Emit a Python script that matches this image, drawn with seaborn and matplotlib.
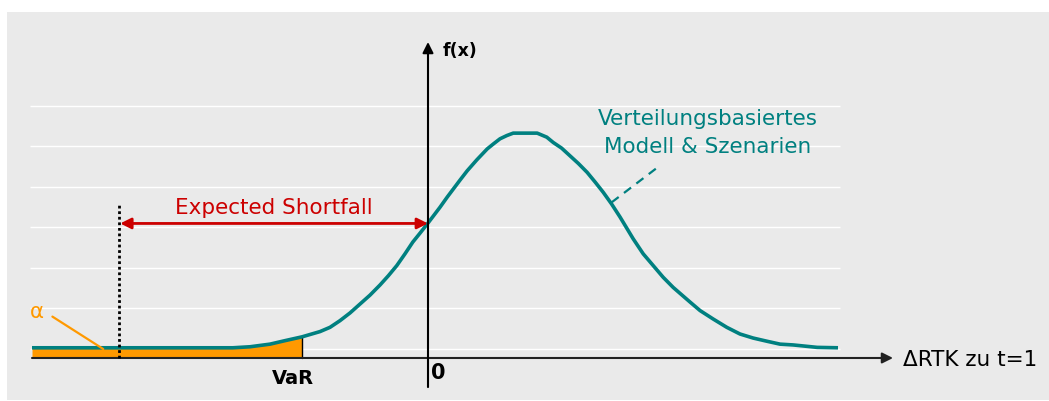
import numpy as np
import pandas as pd
import matplotlib
matplotlib.use("Agg")
import matplotlib.pyplot as plt
from matplotlib.patches import Rectangle
import seaborn as sns

# ---- data ----
x_curve = [-9.9, -8.2, -6.7, -4.88, -4.45, -3.95, -3.58, -3.15, -2.7, -2.45, -2.2, -1.95,
           -1.7, -1.45, -1.2, -0.99, -0.78, -0.575, -0.38, -0.2, 0.0, 0.3, 0.48, 0.8,
           0.98, 1.22, 1.48, 1.63, 1.8, 1.97, 2.13, 2.73, 2.97, 3.13, 3.34, 3.55,
           3.76, 3.98, 4.18, 4.38, 4.59, 4.8, 5.13, 5.38, 5.63, 5.88, 6.13, 6.55,
           6.8, 7.13, 7.47, 7.8, 8.13, 8.48, 8.8, 9.13, 9.73, 10.25]
y_curve = [0.03, 0.03, 0.03, 0.03, 0.055, 0.12, 0.205, 0.30, 0.43, 0.535, 0.70, 0.89,
           1.11, 1.33, 1.58, 1.81, 2.06, 2.35, 2.64, 2.86, 3.11, 3.50, 3.75, 4.17,
           4.40, 4.67, 4.94, 5.06, 5.19, 5.27, 5.33, 5.33, 5.23, 5.10, 4.96, 4.77,
           4.58, 4.36, 4.12, 3.87, 3.58, 3.26, 2.72, 2.35, 2.06, 1.77, 1.52, 1.16,
           0.95, 0.74, 0.535, 0.37, 0.27, 0.19, 0.12, 0.10, 0.04, 0.03]
var_x = -3.15
es_x = -7.725
grid_levels = [0, 1, 2, 3, 4, 5, 6]
curve_label = ["Verteilungsbasiertes", "Modell & Szenarien"]
x_axis_label = "\u0394RTK zu t=1"
y_axis_label = "f(x)"
es_label = "Expected Shortfall"
var_label = "VaR"
zero_label = "0"
alpha_label = "\u03b1"

TEAL = "#008080"
ORANGE = "#FF9900"
RED = "#CC0000"
PANEL = "#EAEAEA"

sns.set_style("white")
plt.rcParams["font.family"] = ["DejaVu Sans"]

df = pd.DataFrame({"x": x_curve, "y": y_curve})

fig = plt.figure(figsize=(10.49, 4.02), dpi=100, facecolor="white")
ax = fig.add_axes([0, 0, 1, 1])
ax.set_xlim(-10.7, 15.525)
ax.set_ylim(-1.284, 8.642)
ax.axis("off")

# grey panel
ax.add_patch(Rectangle((7 / 1049, 1 / 402), 1 - 7 / 1049, (401 - 13) / 402,
                       transform=ax.transAxes, facecolor=PANEL, edgecolor="none", zorder=0))

# white gridlines
ax.hlines(grid_levels, -9.95, 10.3, colors="white", linewidth=1.0, zorder=1)

axis_y = -0.222

# orange tail area up to VaR
mask = df["x"] <= var_x + 1e-9
ax.fill_between(df.loc[mask, "x"], df.loc[mask, "y"], axis_y, color=ORANGE,
                linewidth=0, zorder=2)
ax.plot([var_x, var_x], [axis_y, 0.30], color="black", linewidth=1.0, zorder=3)

# density curve
sns.lineplot(data=df, x="x", y="y", ax=ax, color=TEAL, linewidth=2.6, sort=False,
             estimator=None, zorder=4, legend=False)
ax.lines[-1].set_solid_joinstyle("round")
ax.lines[-1].set_solid_capstyle("butt")

# x axis with arrow
ax.annotate("", xy=(11.625, axis_y), xytext=(-9.9, axis_y),
            arrowprops=dict(arrowstyle="-|>", color="#222222", lw=1.5,
                            mutation_scale=16, shrinkA=0, shrinkB=0), zorder=5)
# y axis with arrow
ax.annotate("", xy=(0, 7.58), xytext=(0, -0.94),
            arrowprops=dict(arrowstyle="-|>", color="black", lw=1.5,
                            mutation_scale=16, shrinkA=0, shrinkB=0), zorder=5)

# dotted line at expected shortfall
ax.plot([es_x, es_x], [axis_y, 3.58], color="black", linewidth=2.0,
        linestyle=(0, (1, 1)), zorder=6)

# expected shortfall double arrow
ax.annotate("", xy=(0, 3.10), xytext=(es_x + 0.03, 3.10),
            arrowprops=dict(arrowstyle="<|-|>", color=RED, lw=2.0,
                            mutation_scale=16, shrinkA=0, shrinkB=0), zorder=6)
ax.text(-3.85, 3.51, es_label, color=RED, fontsize=15.5, ha="center", va="center")

# leader lines
ax.plot([4.59, 5.8], [3.62, 4.53], color=TEAL, linewidth=1.6,
        linestyle=(0, (4, 3)), zorder=4)
ax.plot([-9.39, -8.12], [0.80, 0.0], color=ORANGE, linewidth=1.6, zorder=4)

# labels
ax.text(7.0, 5.70, curve_label[0], color=TEAL, fontsize=15.5, ha="center", va="center")
ax.text(7.0, 5.01, curve_label[1], color=TEAL, fontsize=15.5, ha="center", va="center")
ax.text(11.875, -0.247, x_axis_label, color="black", fontsize=15.5,
        ha="left", va="center")
ax.text(0.375, 7.38, y_axis_label, color="black", fontsize=12.5, fontweight="bold",
        ha="left", va="center")
ax.text(-3.375, -0.716, var_label, color="black", fontsize=14, fontweight="bold",
        ha="center", va="center")
ax.text(0.08, -0.568, zero_label, color="black", fontsize=15, fontweight="bold",
        ha="left", va="center")
ax.text(-9.95, 0.94, alpha_label, color=ORANGE, fontsize=15.5, ha="left", va="center")

fig.savefig("out.png", dpi=100, facecolor="white")
